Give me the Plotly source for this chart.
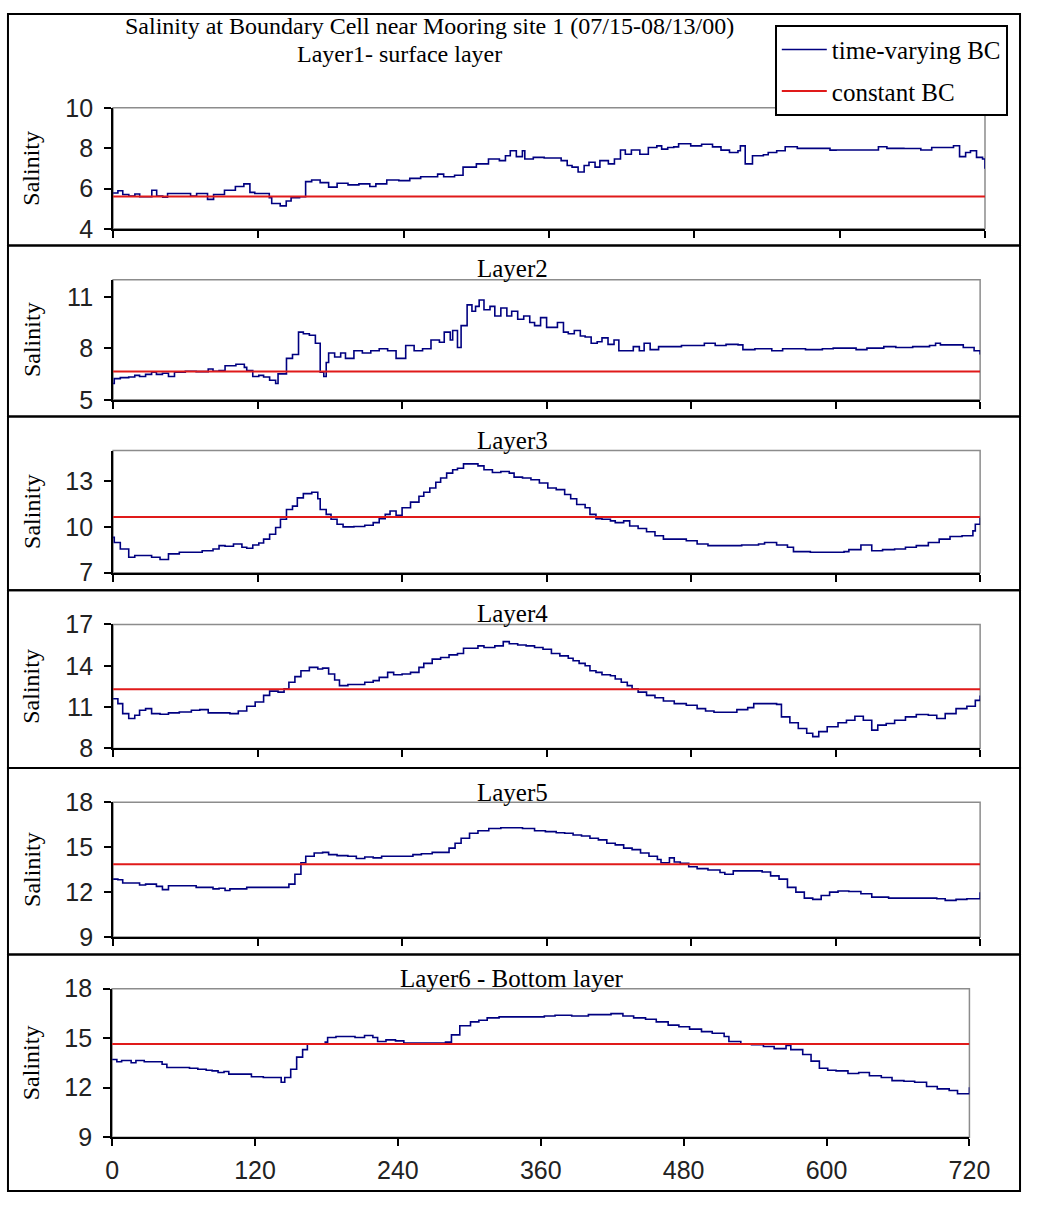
import plotly.graph_objects as go

# ---------------- data (hours since 07/15/00, salinity) ----------------
x_ticks = [0, 120, 240, 360, 480, 600, 720]

layer_titles = ["Layer1- surface layer", "Layer2", "Layer3", "Layer4", "Layer5", "Layer6 - Bottom layer"]
main_title = "Salinity at Boundary Cell near Mooring site 1 (07/15-08/13/00)"

y_ticks1 = [4, 6, 8, 10]
y_ticks2 = [5, 8, 11]
y_ticks3 = [7, 10, 13]
y_ticks4 = [8, 11, 14, 17]
y_ticks5 = [9, 12, 15, 18]
y_ticks6 = [9, 12, 15, 18]

y_range1 = [4, 10]
y_range2 = [5, 12]
y_range3 = [7, 15]
y_range4 = [8, 17]
y_range5 = [9, 18]
y_range6 = [9, 18]

constant_bc = [5.6, 6.65, 10.65, 12.3, 13.85, 14.65]
constant_hours = [0, 720]

h1 = [0,4,8,13,18,22,32,36,41,45,55,64,69,78,83,87,92,101,108,113,117,124,129,131,138,143,147,154,159,164,
      171,178,185,194,203,212,217,226,236,245,254,263,268,273,282,289,300,310,319,324,328,333,338,340,347,356,
      365,370,375,379,384,389,393,398,402,409,414,419,423,428,435,442,449,453,458,463,467,477,486,495,502,509,
      516,518,522,528,537,541,548,555,565,574,583,592,597,616,625,632,639,653,667,676,681,690,694,699,704,708,
      713,718,720]
v1 = [5.78,5.89,5.70,5.62,5.73,5.59,5.91,5.62,5.57,5.75,5.75,5.62,5.75,5.46,5.70,5.70,5.91,6.10,6.23,5.81,
      5.75,5.75,5.54,5.26,5.14,5.38,5.54,5.59,6.34,6.42,6.29,6.07,6.26,6.18,6.23,6.10,6.23,6.42,6.39,6.50,
      6.58,6.58,6.71,6.58,6.66,7.06,7.22,7.46,7.38,7.62,7.87,7.58,7.87,7.46,7.54,7.51,7.51,7.38,7.14,7.06,
      6.82,7.14,7.30,7.06,7.38,7.22,7.46,7.91,7.70,7.91,7.70,8.03,8.11,7.95,8.03,8.06,8.22,8.11,8.19,8.06,
      7.90,7.78,7.87,8.11,7.22,7.62,7.67,7.78,7.87,8.07,7.99,7.99,7.99,7.90,7.91,7.91,7.91,8.07,7.99,7.98,
      7.91,8.03,8.03,8.03,8.12,7.58,7.78,7.87,7.54,7.46,6.98]

h2 = [0,1,6,13,18,22,27,32,36,41,46,51,60,69,79,83,88,93,102,109,111,116,121,125,130,135,137,144,149,154,
      158,163,168,172,175,177,179,184,189,193,200,207,214,221,228,235,243,250,257,264,271,275,280,282,286,289,
      294,298,301,304,308,313,317,322,327,331,336,341,346,350,355,360,364,369,374,378,383,388,392,397,402,406,
      411,416,420,425,432,437,441,446,453,463,472,481,491,500,509,519,523,533,547,556,575,589,598,617,626,640,
      650,664,678,683,687,697,706,715,720]
v2 = [5.95,6.23,6.29,6.33,6.42,6.36,6.48,6.61,6.48,6.55,6.36,6.61,6.66,6.64,6.79,6.66,6.70,6.98,7.07,6.89,
      6.70,6.36,6.42,6.33,6.14,5.95,6.51,7.41,7.64,8.94,8.85,8.76,8.29,6.61,6.36,7.17,7.73,7.49,7.73,7.41,
      7.86,7.73,7.86,7.97,7.86,7.41,8.16,7.86,7.97,8.48,8.35,8.94,8.48,9.04,8.05,9.32,10.53,10.16,10.44,10.81,
      10.25,10.44,9.88,10.35,9.88,10.16,9.69,9.88,9.50,9.32,9.79,9.22,9.22,9.50,8.94,8.85,9.04,8.72,8.66,8.29,
      8.38,8.61,8.23,8.48,7.86,7.86,8.10,7.86,8.29,7.92,8.10,8.10,8.16,8.16,8.29,8.16,8.23,8.20,7.92,7.97,
      7.86,7.97,7.92,7.97,8.01,7.92,8.01,8.10,8.05,8.10,8.16,8.29,8.20,8.20,8.05,7.86,7.64]

h3 = [0,1,6,13,18,27,32,39,46,55,65,74,83,88,93,100,107,111,116,121,125,130,135,139,144,149,153,158,165,170,
      172,177,181,186,191,200,209,216,221,226,230,235,240,247,254,258,263,268,272,277,282,286,291,298,303,308,
      315,322,329,333,340,347,354,361,368,375,380,385,392,396,401,406,413,417,424,429,436,443,450,457,466,476,
      485,494,504,513,522,536,541,551,560,565,579,593,607,611,621,630,639,649,658,667,677,686,695,705,709,714,
      716,720]
v3 = [9.31,8.98,8.55,8.01,8.12,8.12,8.01,7.86,8.23,8.34,8.34,8.44,8.55,8.77,8.73,8.88,8.66,8.60,8.81,8.94,
      9.20,9.52,9.96,10.50,11.14,11.36,11.90,12.18,12.27,11.84,11.14,10.82,10.50,10.17,10.00,10.02,10.11,10.28,
      10.54,10.82,11.04,10.76,11.25,11.62,12.01,12.27,12.55,12.92,13.20,13.52,13.74,13.84,14.13,14.13,14.00,
      13.74,13.56,13.63,13.52,13.26,13.20,13.09,12.87,12.55,12.44,12.12,11.84,11.47,11.25,10.82,10.54,10.50,
      10.39,10.28,10.39,10.06,9.89,9.68,9.42,9.20,9.20,9.09,8.88,8.77,8.77,8.77,8.81,8.88,8.98,8.81,8.66,8.38,
      8.34,8.34,8.38,8.51,8.81,8.44,8.51,8.55,8.66,8.77,8.98,9.20,9.37,9.42,9.42,9.74,10.17,10.60]

h4 = [0,4,8,13,18,22,27,32,39,46,55,65,72,79,88,97,104,111,118,125,130,137,142,146,151,156,163,170,174,179,
      184,188,195,202,209,216,221,228,233,240,247,254,258,265,272,279,286,291,298,303,308,317,324,329,336,343,
      350,357,364,371,378,382,387,392,396,401,406,413,417,422,427,431,436,443,450,457,466,476,485,492,499,508,
      518,527,532,541,551,555,562,569,576,581,586,593,597,602,609,616,623,628,630,635,642,649,658,667,677,684,
      691,700,709,716,720]
v4 = [11.61,11.25,10.53,10.17,10.41,10.77,10.89,10.53,10.48,10.58,10.65,10.77,10.82,10.58,10.58,10.53,10.72,
      11.06,11.37,11.85,12.16,12.09,12.33,12.80,13.21,13.64,13.88,13.76,13.83,13.40,12.97,12.56,12.64,12.64,
      12.80,12.92,13.16,13.52,13.35,13.40,13.52,13.88,14.17,14.48,14.60,14.79,14.89,15.27,15.27,15.44,15.32,
      15.44,15.75,15.60,15.51,15.44,15.32,15.20,14.89,14.72,14.55,14.36,14.17,14.00,13.64,13.52,13.35,13.28,
      13.04,12.80,12.56,12.33,12.09,11.85,11.68,11.44,11.25,11.13,10.89,10.72,10.63,10.63,10.82,10.96,11.25,
      11.25,11.20,10.29,9.86,9.45,9.10,8.86,9.22,9.57,9.57,9.86,10.05,10.34,10.05,10.05,9.33,9.69,9.81,10.05,
      10.29,10.46,10.41,10.17,10.53,10.89,11.06,11.49,11.85]

h5 = [0,4,8,18,22,27,36,41,46,55,65,69,76,83,88,93,97,107,111,125,135,144,146,151,156,160,167,174,179,186,
      195,202,209,216,223,233,242,249,256,265,275,279,284,289,296,303,312,322,331,340,350,359,368,375,382,389,
      396,403,410,417,424,431,438,445,452,455,462,466,471,478,485,494,504,508,515,522,532,539,546,553,560,567,
      574,581,588,595,602,611,621,630,644,658,672,684,691,700,709,716,720]
v5 = [12.86,12.82,12.60,12.60,12.47,12.53,12.38,12.16,12.42,12.42,12.42,12.31,12.31,12.21,12.25,12.10,12.21,
      12.21,12.31,12.31,12.31,12.31,12.53,13.19,13.95,14.39,14.61,14.65,14.50,14.43,14.39,14.24,14.34,14.28,
      14.39,14.39,14.39,14.50,14.56,14.65,14.65,14.93,15.26,15.59,15.92,16.09,16.24,16.29,16.29,16.24,16.09,
      16.03,15.96,15.92,15.81,15.74,15.59,15.48,15.26,15.15,14.93,14.83,14.61,14.39,14.17,13.95,14.28,14.00,
      13.91,13.69,13.56,13.47,13.30,13.19,13.41,13.41,13.41,13.34,13.08,12.86,12.31,11.99,11.59,11.51,11.77,
      11.99,12.07,12.03,11.88,11.66,11.59,11.59,11.59,11.55,11.44,11.51,11.55,11.55,11.99]

h6 = [0,4,8,16,20,27,32,39,42,46,56,65,72,79,84,89,94,98,108,117,127,136,142,145,150,155,160,164,171,179,
      181,188,197,204,212,219,223,230,238,245,259,273,280,285,292,301,308,315,325,339,353,363,372,386,400,410,
      419,429,438,448,457,467,476,485,495,504,514,518,528,537,547,556,566,570,580,587,594,601,608,618,627,636,
      646,655,665,674,684,693,703,710,717,720]
v6 = [13.71,13.57,13.65,13.51,13.65,13.57,13.57,13.57,13.42,13.22,13.22,13.18,13.12,13.06,13.02,12.92,12.98,
      12.82,12.82,12.66,12.62,12.62,12.33,12.62,13.12,13.85,14.31,14.64,14.64,14.76,15.04,15.10,15.10,15.04,
      15.16,15.04,14.80,14.90,14.84,14.70,14.70,14.70,14.76,15.20,15.75,15.99,16.09,16.23,16.29,16.29,16.29,
      16.35,16.39,16.35,16.43,16.43,16.49,16.35,16.23,16.15,15.99,15.79,15.69,15.55,15.40,15.30,15.10,14.80,
      14.64,14.60,14.50,14.37,14.56,14.31,14.01,13.61,13.18,13.06,13.02,12.86,12.92,12.72,12.62,12.43,12.39,
      12.33,12.07,11.93,11.83,11.63,11.63,12.03]

hours = [h1, h2, h3, h4, h5, h6]
values = [v1, v2, v3, v4, v5, v6]
y_ticks = [y_ticks1, y_ticks2, y_ticks3, y_ticks4, y_ticks5, y_ticks6]
y_ranges = [y_range1, y_range2, y_range3, y_range4, y_range5, y_range6]

# ---------------- layout geometry (target page pixels) ----------------
PAGE_MARGIN = 8            # default body margin of the html page
W, H = 1058 - 2 * PAGE_MARGIN, 1216 - 2 * PAGE_MARGIN
plot_boxes = [(117, 1013, 104, 228), (117, 1008, 280, 403), (117, 1008, 455, 580),
              (117, 1008, 633, 760), (117, 1008, 815, 953), (116, 997, 1006, 1158)]
panel_edges = [8, 245, 420, 598, 780, 971, 1213]
title_pos = [(411, 49), (527, 269), (527, 445), (527, 622), (527, 805), (527, 996)]


def px(p):
    return (p - PAGE_MARGIN) / W


def py(p):
    return 1 - (p - PAGE_MARGIN) / H


BLUE = "#000080"
RED = "#e01a1a"
tick_font = dict(family="Liberation Sans, Arial, sans-serif", size=25, color="#222222")
serif = "Liberation Serif, Times New Roman, serif"

fig = go.Figure()
layout = dict(width=W, height=H, margin=dict(l=0, r=0, t=0, b=0),
              paper_bgcolor="white", plot_bgcolor="white", shapes=[], annotations=[])

for i in range(6):
    k = "" if i == 0 else str(i + 1)
    xa, ya = "x" + k, "y" + k
    fig.add_trace(go.Scatter(x=hours[i], y=values[i], mode="lines", line=dict(color=BLUE, width=1.6, shape="hv"),
                             name="time-varying BC", legendgroup="a", showlegend=(i == 0),
                             xaxis=xa, yaxis=ya))
    fig.add_trace(go.Scatter(x=constant_hours, y=[constant_bc[i]] * len(constant_hours), mode="lines",
                             line=dict(color=RED, width=2), name="constant BC", legendgroup="b",
                             showlegend=(i == 0), xaxis=xa, yaxis=ya))
    x0, x1, y0, y1 = plot_boxes[i]
    layout["xaxis" + k] = dict(domain=[px(x0), px(x1)], range=[0, 720], tickvals=x_ticks,
                               ticktext=[str(t) for t in x_ticks], showticklabels=(i == 5),
                               ticks="outside", ticklen=7, tickwidth=2, tickcolor="black",
                               showline=True, linecolor="black", linewidth=2, showgrid=False,
                               zeroline=False, tickfont=tick_font, anchor=ya, ticklabelstandoff=3)
    layout["yaxis" + k] = dict(domain=[py(y1), py(y0)], range=y_ranges[i], tickvals=y_ticks[i],
                               ticks="outside", ticklen=7, tickwidth=2, tickcolor="black",
                               showline=True, linecolor="black", linewidth=2, showgrid=False,
                               zeroline=False, tickfont=tick_font, anchor=xa, ticklabelstandoff=6)
    layout["shapes"].append(dict(type="rect", xref=xa + " domain", yref=ya + " domain", x0=0, x1=1, y0=0, y1=1,
                                 line=dict(color="#8c8c8c", width=1.5), layer="below"))
    layout["shapes"].append(dict(type="rect", xref="paper", yref="paper", x0=px(9), x1=px(1049),
                                 y0=py(panel_edges[i + 1]), y1=py(panel_edges[i]),
                                 line=dict(color="black", width=2), layer="below"))
    tx, ty = title_pos[i]
    layout["annotations"].append(dict(text=layer_titles[i], x=px(tx), y=py(ty), xref="paper", yref="paper",
                                      showarrow=False, xanchor="center", yanchor="middle",
                                      font=dict(family=serif, size=24 if i == 0 else 25, color="black")))
    layout["annotations"].append(dict(text="Salinity", x=px(33), y=py((y0 + y1) / 2), xref="paper",
                                      yref="paper", showarrow=False, textangle=-90, xanchor="center",
                                      yanchor="middle", font=dict(family=serif, size=24, color="black")))

layout["annotations"].append(dict(text=main_title, x=px(442), y=py(20), xref="paper", yref="paper",
                                  showarrow=False, xanchor="center", yanchor="middle",
                                  font=dict(family=serif, size=24, color="black")))

layout["legend"] = dict(x=px(797), y=py(19), xanchor="left", yanchor="top", bgcolor="white",
                        bordercolor="black", borderwidth=2, font=dict(family=serif, size=25, color="black"),
                        itemwidth=45, tracegroupgap=6, traceorder="grouped")

fig.update_layout(**layout)
fig.write_html("out.html")
